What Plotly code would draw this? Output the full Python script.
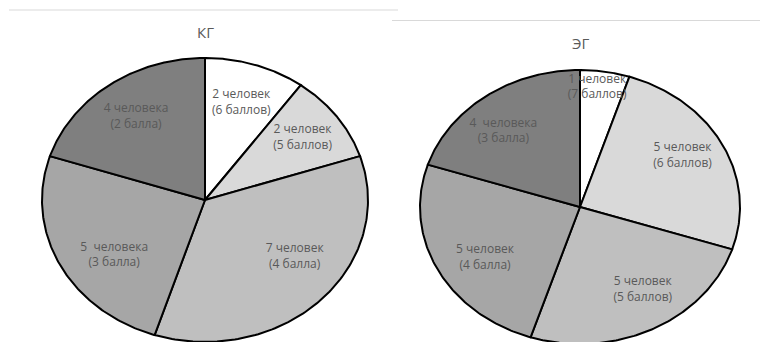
import numpy as np
import plotly.graph_objects as go

# ---- data ----
titles = ["КГ", "ЭГ"]
kg_values = [2, 2, 7, 5, 4]
kg_labels = ["2 человек<br>(6 баллов)", "2 человек<br>(5 баллов)", "7 человек<br>(4 балла)",
             "5  человека<br>(3 балла)", "4 человека<br>(2 балла)"]
eg_values = [1, 5, 5, 5, 4]
eg_labels = ["1 человек<br>(7 баллов)", "5 человек<br>(6 баллов)", "5 человек<br>(5 баллов)",
             "5 человек<br>(4 балла)", "4  человека<br>(3 балла)"]

# ---- styles / layout ----
colors = ["#ffffff", "#d9d9d9", "#bfbfbf", "#a6a6a6", "#7f7f7f"]
pies = [
    dict(values=kg_values, labels=kg_labels, cx=205, cy=200, rx=163, ry=142,
         lab_r=[0.72, 0.74, 0.68, 0.68, 0.72], lab_da=[0, 0, -9, -8, 0],
         title_xy=(205, 32)),
    dict(values=eg_values, labels=eg_labels, cx=580, cy=207, rx=160, ry=137,
         lab_r=[0.88, 0.74, 0.72, 0.70, 0.73], lab_da=[-2, -3, -6, -5, -5],
         title_xy=(580, 43)),
]
text_color = "#595959"

fig = go.Figure()

for p in pies:
    vals = np.array(p["values"], dtype=float)
    total = vals.sum()
    start = 0.0
    tx, ty = [], []
    for i, v in enumerate(vals):
        a0 = start
        a1 = start + 360.0 * v / total
        th = np.radians(np.linspace(a0, a1, 120))
        xs = np.concatenate([[p["cx"]], p["cx"] + p["rx"] * np.sin(th), [p["cx"]]])
        ys = np.concatenate([[p["cy"]], p["cy"] - p["ry"] * np.cos(th), [p["cy"]]])
        fig.add_trace(go.Scatter(x=xs, y=ys, mode="lines", fill="toself",
                                 fillcolor=colors[i],
                                 line=dict(color="#000000", width=2),
                                 hoverinfo="skip", showlegend=False))
        mid = np.radians((a0 + a1) / 2 + p["lab_da"][i])
        r = p["lab_r"][i]
        tx.append(p["cx"] + r * p["rx"] * np.sin(mid))
        ty.append(p["cy"] - r * p["ry"] * np.cos(mid))
        start = a1
    fig.add_trace(go.Scatter(x=tx, y=ty, mode="text", text=p["labels"],
                             textposition="middle center",
                             textfont=dict(family="Open Sans", size=12, color=text_color),
                             hoverinfo="skip", showlegend=False))

for p, t in zip(pies, titles):
    fig.add_annotation(x=p["title_xy"][0], y=p["title_xy"][1], text=t, showarrow=False,
                       xref="x", yref="y",
                       font=dict(family="Open Sans", size=15, color=text_color))

# chart frame top borders
fig.add_shape(type="line", x0=9, x1=398, y0=10, y1=10, xref="x", yref="y",
              line=dict(color="#d9d9d9", width=1))
fig.add_shape(type="line", x0=392, x1=760, y0=20.5, y1=20.5, xref="x", yref="y",
              line=dict(color="#d9d9d9", width=1))

fig.update_layout(
    width=760, height=342,
    margin=dict(l=0, r=0, t=0, b=0),
    paper_bgcolor="white", plot_bgcolor="white",
    xaxis=dict(range=[0, 760], visible=False, fixedrange=True),
    yaxis=dict(range=[342, 0], visible=False, fixedrange=True),
)

fig.write_html("out.html")
